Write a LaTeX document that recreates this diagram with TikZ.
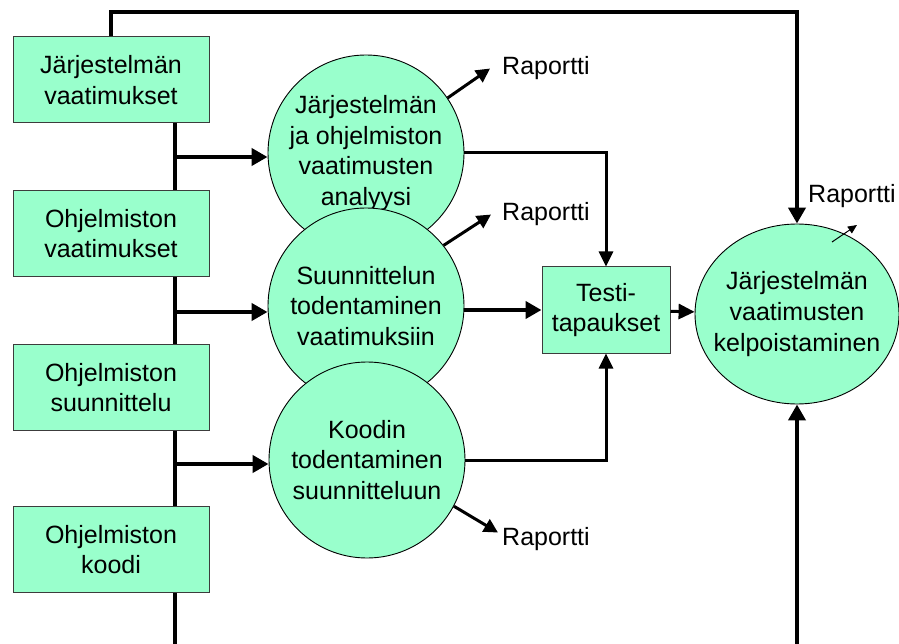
\documentclass[tikz,border=0pt]{standalone}
\usepackage{fontspec}
\setmainfont{Liberation Sans}
\usetikzlibrary{arrows.meta,shapes.geometric,calc}
\definecolor{mint}{RGB}{153,255,204}
\definecolor{edgegray}{RGB}{60,60,60}
\begin{document}
\begin{tikzpicture}[x=1pt,y=-1pt,
  every node/.style={font=\fontsize{25}{30.7}\selectfont, align=center, inner sep=0pt},
  docbox/.style={draw=edgegray, line width=1pt, fill=mint, minimum width=196pt, minimum height=86pt},
  testbox/.style={draw=edgegray, line width=1pt, fill=mint, minimum width=128pt, minimum height=86pt},
  proc/.style={circle, draw=black, line width=0.9pt, fill=mint, minimum size=196pt},
  valid/.style={ellipse, draw=black, line width=0.9pt, fill=mint, minimum width=204pt, minimum height=180pt},
  trunk/.style={line width=4pt},
  feed/.style={line width=4pt, -{Triangle[length=16pt,width=17pt]}},
  flow/.style={line width=3pt, -{Triangle[length=15pt,width=14pt]}},
  flowmid/.style={line width=3pt, -{Triangle[length=16pt,width=15pt]}},
  rep/.style={line width=3pt, -{Triangle[length=14pt,width=14pt]}},
  repthin/.style={line width=1pt, -{Triangle[length=9pt,width=8pt]}}
]
\useasboundingbox (0,0) rectangle (899,644);

% document boxes on the left
\node[docbox] (b1) at (111,80)    {Järjestelmän\\vaatimukset};
\node[docbox] (b2) at (111,233.5) {Ohjelmiston\\vaatimukset};
\node[docbox] (b3) at (111,387.5) {Ohjelmiston\\suunnittelu};
\node[docbox] (b4) at (111,549.5) {Ohjelmiston\\koodi};

% vertical trunk joining the documents
\coordinate (sp) at (175,0);
\coordinate (spbot) at (175,644);
\draw[trunk] (b1.south -| sp) -- (b2.north -| sp);
\draw[trunk] (b2.south -| sp) -- (b3.north -| sp);
\draw[trunk] (b3.south -| sp) -- (b4.north -| sp);
\draw[trunk] (b4.south -| sp) -- (spbot);

% verification processes (later circles overlap earlier ones)
\node[proc] (c1) at (366,153) {};
\node (c1txt) at (c1) {Järjestelmän\\ja ohjelmiston\\vaatimusten\\analyysi};
\node[proc] (c2) at (366,306) {};
\node (c2txt) at (c2) {Suunnittelun\\todentaminen\\vaatimuksiin};
\node[proc] (c3) at (367,460) {};
\node (c3txt) at (c3) {Koodin\\todentaminen\\suunnitteluun};

% branches from the trunk into the processes
\coordinate (j1) at (175,157);
\coordinate (j2) at (175,312);
\coordinate (j3) at (175,464);
\draw[feed] (j1) -- (j1 -| c1.west);
\draw[feed] (j2) -- (j2 -| c2.west);
\draw[feed] (j3) -- (j3 -| c3.west);

% test cases and validation
\node[testbox] (t) at (606,310) {Testi-\\tapaukset};
\node[valid] (e) at (797,314) {};
\node (etxt) at (e) {Järjestelmän\\vaatimusten\\kelpoistaminen};

\draw[flow] (c1.east) -| (t.north);
\draw[flow] (c3.east) -| (t.south);
\draw[feed] (t.west -| c2.east) -- (t.west);
\draw[flowmid] (t) -- (e);

% requirements loop over the top and input from below
\coordinate (toprail) at (500,12);
\coordinate (botin) at (797,644);
\draw[feed] (b1.north) |- (toprail) -| (e.north);
\draw[feed] (botin) -- (e.south);

% reports
\node[anchor=base west] (r1) at (502,75)  {Raportti};
\node[anchor=base west] (r2) at (502,221) {Raportti};
\node[anchor=base west] (r3) at (502,545) {Raportti};
\node[anchor=base west] (r4) at (808,203) {Raportti};
\draw[rep] (c1.34) -- ($(r1.west)+(-12,0)$);
\draw[rep] (c2.38) -- ($(r2.west)+(-11,0)$);
\draw[rep] (c3.-28) -- ($(r3.west)+(-4,-6)$);
\coordinate (e4s) at ($(e.center)+(35,-72)$);
\coordinate (e4t) at ($(e.center)+(60,-89)$);
\draw[repthin] (e4s) -- (e4t);
\end{tikzpicture}
\end{document}
